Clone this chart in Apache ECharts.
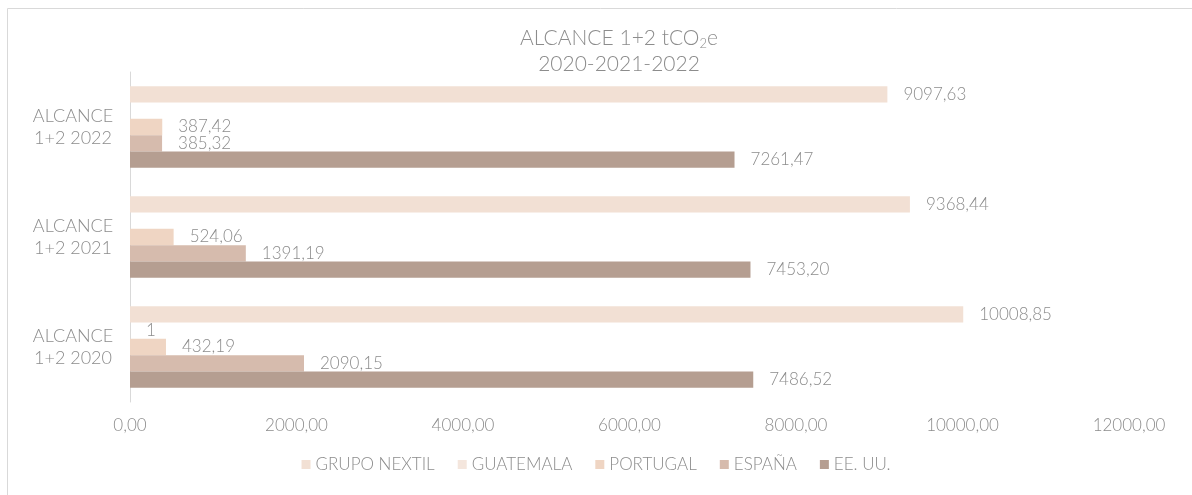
<!DOCTYPE html>
<html>
<head>
<meta charset="utf-8">
<script src="https://cdn.jsdelivr.net/npm/echarts@6/dist/echarts.min.js"></script>
<style>
  html, body { margin: 0; padding: 0; background: #fff; }
  #chart { width: 1192px; height: 495px; }
</style>
</head>
<body>
<div id="chart"></div>
<script>
const categories = ["ALCANCE\n1+2 2020", "ALCANCE\n1+2 2021", "ALCANCE\n1+2 2022"];
const seriesNames = ["GRUPO NEXTIL", "GUATEMALA", "PORTUGAL", "ESPAÑA", "EE. UU."];
const grupoNextil = [10008.85, 9368.44, 9097.63];
const guatemala = [1, null, null];
const portugal = [432.19, 524.06, 387.42];
const espana = [2090.15, 1391.19, 385.32];
const eeuu = [7486.52, 7453.20, 7261.47];
const colors = ["#F2E0D4", "#F4E6DD", "#EFD5C3", "#D6BBAD", "#B59E91"];

const font = "Lato";
const grey = "#8c8c8c";

function fmt(v) {
  if (v === 1) return "1";
  return v.toFixed(2).replace(".", ",");
}

// first series sits at the top of each category band
const stack = [
  [seriesNames[0], grupoNextil, colors[0]],
  [seriesNames[1], guatemala, colors[1]],
  [seriesNames[2], portugal, colors[2]],
  [seriesNames[3], espana, colors[3]],
  [seriesNames[4], eeuu, colors[4]],
];

const chart = echarts.init(document.getElementById("chart"));
chart.setOption({
  animation: false,
  textStyle: { fontFamily: font, fontWeight: 300 },
  title: {
    text: "{a|ALCANCE 1+2 tCO}{s|2}{a|e}\n{a|2020-2021-2022}",
    left: 614,
    top: 20,
    textAlign: "center",
    textStyle: {
      rich: {
        a: { fontFamily: font, fontWeight: 300, fontSize: 21, color: grey, lineHeight: 26 },
        s: { fontFamily: font, fontWeight: 300, fontSize: 13, color: grey, padding: [12, 0, 0, 0], lineHeight: 26 },
      },
    },
  },
  graphic: [{
    type: "rect",
    shape: { x: 7.5, y: 8.5, width: 1200, height: 500 },
    style: { fill: "none", stroke: "#d9d9d9", lineWidth: 1 },
    silent: true,
  }],
  legend: {
    data: seriesNames,
    bottom: 17,
    left: "center",
    itemWidth: 9,
    itemHeight: 9,
    itemGap: 23,
    icon: "rect",
    textStyle: { fontFamily: font, fontWeight: 300, fontSize: 17, color: grey },
  },
  grid: { left: 130, right: 63, top: 72, bottom: 93, containLabel: false },
  xAxis: {
    type: "value",
    min: 0,
    max: 12000,
    interval: 2000,
    axisLine: { show: false },
    axisTick: { show: false },
    splitLine: { show: false },
    axisLabel: {
      margin: 15,
      fontFamily: font,
      fontWeight: 300,
      fontSize: 17,
      color: grey,
      formatter: (v) => v.toFixed(2).replace(".", ","),
    },
  },
  yAxis: {
    type: "category",
    data: categories,
    axisLine: { show: true, lineStyle: { color: "#d9d9d9", width: 1 } },
    axisTick: { show: false },
    axisLabel: {
      margin: 57,
      align: "center",
      fontFamily: font,
      fontWeight: 300,
      fontSize: 18,
      lineHeight: 22,
      color: grey,
    },
  },
  series: stack.map(([name, data, color]) => ({
    type: "bar",
    name: name,
    data: data,
    barGap: "0%",
    barCategoryGap: "26%",
    itemStyle: { color: color },
    label: {
      show: true,
      position: "right",
      distance: 16,
      fontFamily: font,
      fontWeight: 300,
      fontSize: 17,
      color: grey,
      formatter: (p) => fmt(p.value),
    },
  })),
});
</script>
</body>
</html>
